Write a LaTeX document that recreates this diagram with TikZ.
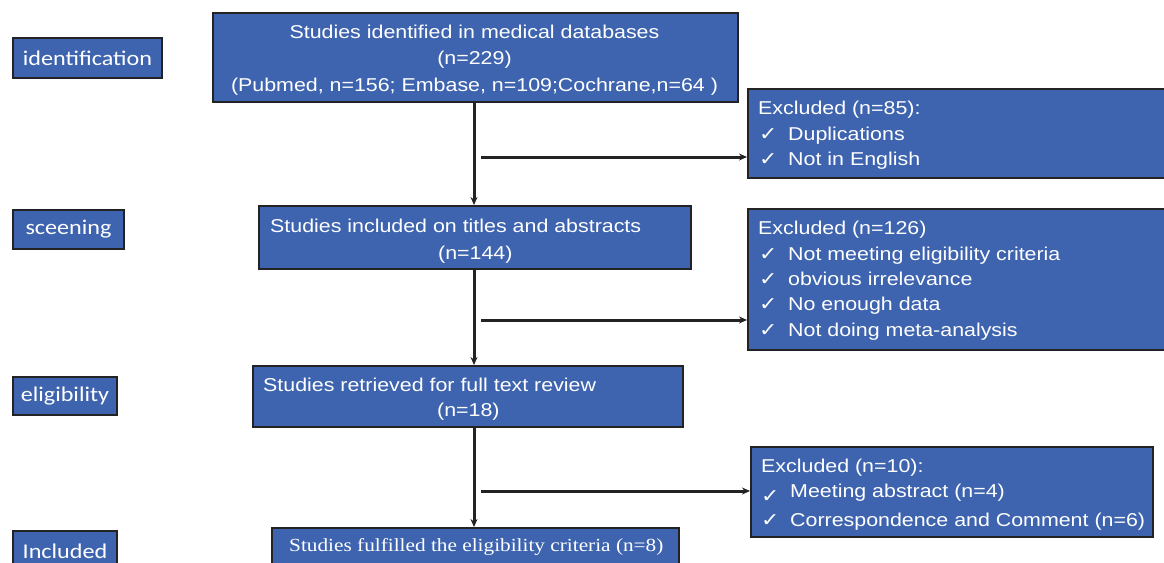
\documentclass[tikz,border=0pt]{standalone}
\usepackage{fontspec}
\setmainfont{Liberation Sans}
\newfontfamily\lblfont{Carlito}
\newfontfamily\serfont{Liberation Serif}
\newfontfamily\symfont{DejaVu Sans}
\usetikzlibrary{arrows.meta}
\definecolor{boxblue}{RGB}{62,100,175}
\definecolor{edge}{RGB}{35,35,35}
\newcommand{\sx}[1]{\scalebox{1.15}[1]{#1}}
\tikzset{
  bx/.style={draw=edge, line width=2pt, fill=boxblue, text=white, inner sep=0pt, anchor=north west},
  lbl/.style={bx, font=\lblfont\fontsize{21}{24}\selectfont},
  txt/.style={text=white, inner sep=0pt, anchor=base west, font=\fontsize{18.6}{22}\selectfont},
  ctxt/.style={txt, anchor=base},
  ckm/.style={text=white, inner sep=0pt, anchor=base west, font=\symfont\fontsize{19}{22}\selectfont},
  conn/.style={draw=edge, line width=3pt},
  arr/.style={conn, -{Stealth[length=8pt,width=7pt]}}
}
\begin{document}
\begin{tikzpicture}[x=1pt,y=-1pt]
\useasboundingbox (0,0) rectangle (1164,562);
% stage labels
\node[lbl, minimum width=149pt, minimum height=40pt] (l1) at (12,37) {\sx{identification}};
\node[lbl, minimum width=111pt, minimum height=39pt] (l2) at (12,209) {\sx{sceening}};
\node[lbl, minimum width=104pt, minimum height=38pt] (l3) at (12,376) {\sx{eligibility}};
\node[lbl, minimum width=104pt, minimum height=40pt] (l4) at (12,530) {\sx{Included}};
% main boxes
\node[bx, minimum width=525pt, minimum height=89pt] (b1) at (212,12) {};
\node[ctxt] (b1a) at (474.5,38) {\sx{Studies identified in medical databases}};
\node[ctxt] (b1b) at (474.5,64.5) {\sx{(n=229)}};
\node[ctxt] (b1c) at (474.5,91) {\sx{(Pubmed, n=156; Embase, n=109;Cochrane,n=64 )}};
\node[bx, minimum width=432pt, minimum height=63pt] (b2) at (258,205) {};
\node[txt] (b2a) at (270,232) {\sx{Studies included on titles and abstracts}};
\node[txt] (b2b) at (438,259) {\sx{(n=144)}};
\node[bx, minimum width=430pt, minimum height=61pt] (b3) at (252,365) {};
\node[txt] (b3a) at (263,391) {\sx{Studies retrieved for full text review}};
\node[txt] (b3b) at (437,416) {\sx{(n=18)}};
\node[bx, minimum width=407pt, minimum height=45pt] (b4) at (271,527) {};
\node[txt, font=\serfont\fontsize{18.5}{22}\selectfont] (b4a) at (289,551) {\sx{Studies fulfilled the eligibility criteria (n=8)}};
% excluded boxes
\node[bx, minimum width=430pt, minimum height=89pt] (e1) at (747,88) {};
\node[txt] (e1a) at (758,114) {\sx{Excluded (n=85):}};
\node[ckm] (e1k1) at (759,140) {\sx{✓}};
\node[txt] (e1b) at (788,140) {\sx{Duplications}};
\node[ckm] (e1k2) at (759,165) {\sx{✓}};
\node[txt] (e1c) at (788,165) {\sx{Not in English}};
\node[bx, minimum width=430pt, minimum height=141pt] (e2) at (747,208) {};
\node[txt] (e2a) at (758,234) {\sx{Excluded (n=126)}};
\node[ckm] (e2k1) at (759,260) {\sx{✓}};
\node[txt] (e2b) at (788,260) {\sx{Not meeting eligibility criteria}};
\node[ckm] (e2k2) at (759,285) {\sx{✓}};
\node[txt] (e2c) at (788,285) {\sx{obvious irrelevance}};
\node[ckm] (e2k3) at (759,310) {\sx{✓}};
\node[txt] (e2d) at (788,310) {\sx{No enough data}};
\node[ckm] (e2k4) at (759,336) {\sx{✓}};
\node[txt] (e2e) at (788,336) {\sx{Not doing meta-analysis}};
\node[bx, minimum width=402pt, minimum height=90pt] (e3) at (750,446) {};
\node[txt] (e3a) at (761,472) {\sx{Excluded (n=10):}};
\node[ckm] (e3k1) at (761,502) {\sx{✓}};
\node[txt] (e3b) at (790,497) {\sx{Meeting abstract (n=4)}};
\node[ckm] (e3k2) at (761,526) {\sx{✓}};
\node[txt] (e3c) at (790,526) {\sx{Correspondence and Comment (n=6)}};
% connectors
\coordinate (s1) at (481,157);
\coordinate (s2) at (481,320);
\coordinate (s3) at (481,491);
\draw[arr] (b1.south -| 474,0) -- (b2.north -| 474,0);
\draw[arr] (b2.south -| 474,0) -- (b3.north -| 474,0);
\draw[arr] (b3.south -| 474,0) -- (b4.north -| 474,0);
\draw[arr] (s1) -- (e1.west |- s1);
\draw[arr] (s2) -- (e2.west |- s2);
\draw[arr] (s3) -- (e3.west |- s3);
\end{tikzpicture}
\end{document}
